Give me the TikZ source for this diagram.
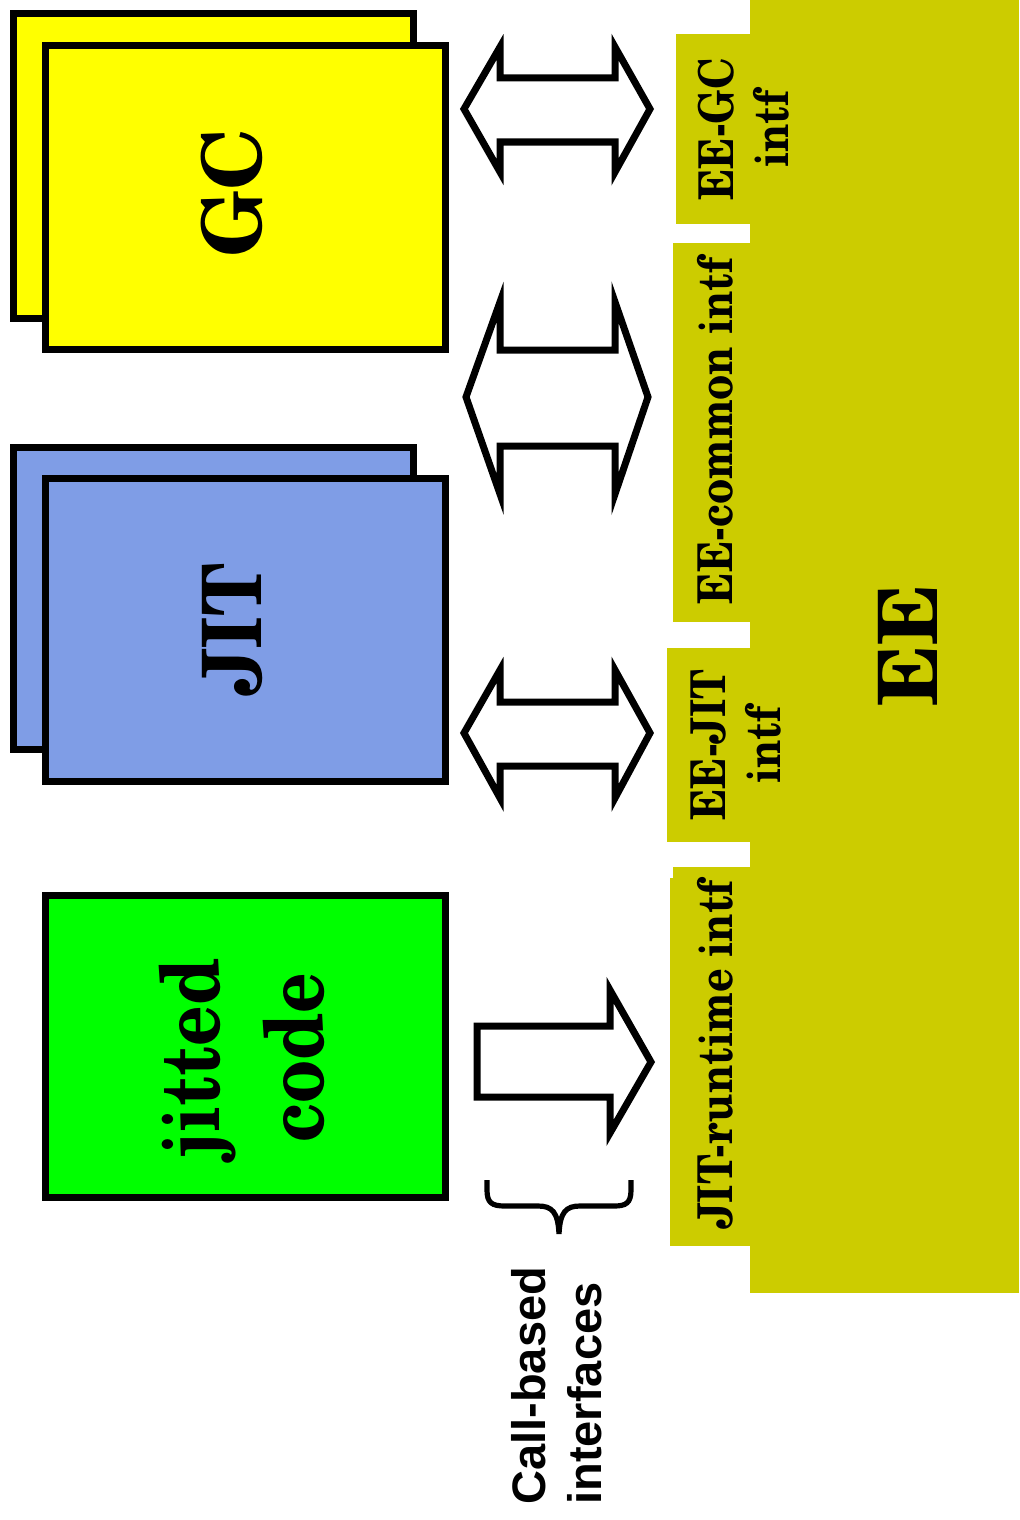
\documentclass[tikz,border=0pt]{standalone}
\usepackage{fontspec}
\setmainfont{TeX Gyre Schola}[FakeStretch=0.86]
\newfontfamily\wideschola{TeX Gyre Schola}[FakeStretch=0.98]
\newfontfamily\midschola{TeX Gyre Schola}[FakeStretch=0.9]
\newfontfamily\callfont{Liberation Sans}
\definecolor{eeolive}{RGB}{204,204,0}
\definecolor{jitblue}{RGB}{127,157,230}
\definecolor{gcyellow}{RGB}{255,255,0}
\definecolor{codegreen}{RGB}{0,255,0}
\tikzset{
  card/.style={draw=black, line width=3.5pt},
  blockarrow/.style={draw=black, fill=white, line width=3.5pt, line join=miter},
  bigtext/.style={rotate=90, inner sep=0pt, font=\fontsize{41}{52}\selectfont\bfseries, align=center},
  lbltext/.style={rotate=90, inner sep=0pt, font=\fontsize{24}{27.5}\selectfont\bfseries, align=center},
}
\begin{document}
\begin{tikzpicture}[x=0.5pt, y=-0.5pt]
\useasboundingbox (0,0) rectangle (1019,1520);
% EE body and interface tabs
\fill[eeolive] (750,0) rectangle (1019,1293);
\fill[eeolive] (676,34) rectangle (750,224);
\fill[eeolive] (673,243) rectangle (750,622);
\fill[eeolive] (667,648) rectangle (750,842);
\fill[eeolive] (673,867) rectangle (750,878);
\fill[eeolive] (670,878) rectangle (750,1246);
% GC stack
\draw[card, fill=gcyellow] (13,14) rectangle (413,318);
\draw[card, fill=gcyellow] (45,46) rectangle (445,349);
% JIT stack
\draw[card, fill=jitblue] (13,447) rectangle (413,749);
\draw[card, fill=jitblue] (45,478) rectangle (445,781);
% jitted code
\draw[card, fill=codegreen] (45,895) rectangle (445,1197);
% texts
\node[bigtext] (gc) at (232,193) {\wideschola GC};
\node[bigtext] (jit) at (233,630) {\midschola JIT};
\node[bigtext] (code) at (242,1058) {jitted\\code};
\node[bigtext] (ee) at (908,645) {\wideschola EE};
\node[lbltext] (eegc) at (744,129) {EE-GC\\intf};
\node[lbltext] (eecommon) at (715,431) {EE-common intf};
\node[lbltext] (eejit) at (736,745) {EE-JIT\\intf};
\node[lbltext] (jitrt) at (715,1055) {JIT-runtime intf};
% double arrows
\draw[blockarrow] (464,109) -- (500,47) -- (500,78) -- (615,78) -- (615,47) -- (650,109)
  -- (615,172) -- (615,142) -- (500,142) -- (500,172) -- cycle;
\draw[blockarrow] (466,397) -- (500,302) -- (500,350) -- (615,350) -- (615,302) -- (648,397)
  -- (615,494) -- (615,446) -- (500,446) -- (500,494) -- cycle;
\draw[blockarrow] (464,733) -- (500,670) -- (500,702) -- (615,702) -- (615,670) -- (650,733)
  -- (615,798) -- (615,766) -- (500,766) -- (500,798) -- cycle;
% single arrow
\draw[blockarrow] (477,1026) -- (610,1026) -- (610,990) -- (651,1062) -- (610,1133)
  -- (610,1097) -- (477,1097) -- cycle;
% brace
\draw[line width=2.6pt, line cap=butt] (487,1180) -- (487,1190)
  .. controls (487,1203) and (492,1206) .. (505,1206) -- (538,1206)
  .. controls (552,1206) and (558,1212) .. (559,1234)
  .. controls (560,1212) and (566,1206) .. (580,1206) -- (614,1206)
  .. controls (626,1206) and (631,1203) .. (631,1190) -- (631,1180);
\node[rotate=90, anchor=west, inner sep=0pt, align=left,
  font=\callfont\fontsize{23.5}{28}\selectfont\bfseries] (callb) at (557,1505) {Call-based\\interfaces};
\end{tikzpicture}
\end{document}
